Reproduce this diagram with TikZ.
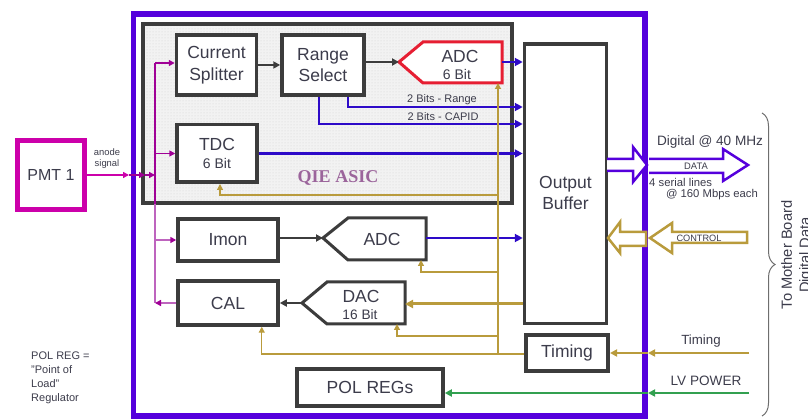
\documentclass[tikz,border=0pt]{standalone}
\usepackage{fontspec}
\setmainfont{Liberation Sans}
\newfontfamily\qiefont{Liberation Serif}
\usetikzlibrary{arrows.meta,decorations.pathreplacing,patterns}
\definecolor{frameP}{RGB}{85,0,220}
\definecolor{busB}{RGB}{45,10,200}
\definecolor{pmtM}{RGB}{204,0,170}
\definecolor{sigM}{RGB}{160,0,150}
\definecolor{sigL}{RGB}{190,100,190}
\definecolor{goldC}{RGB}{185,155,60}
\definecolor{greenC}{RGB}{50,160,80}
\definecolor{boxG}{RGB}{60,60,60}
\definecolor{txt}{RGB}{60,60,75}
\definecolor{qieC}{RGB}{155,100,155}
\definecolor{adcR}{RGB}{230,30,50}
\definecolor{braceG}{RGB}{110,110,110}
\begin{document}
\begin{tikzpicture}[x=1pt,y=-1pt,
  box/.style={draw=boxG, line width=3.5pt, fill=white, text=txt, align=center, inner sep=0pt,
    font=\fontsize{17.5}{21.5}\selectfont},
  lbl/.style={text=txt, inner sep=0pt, align=center},
  darr/.style={draw=boxG, line width=2pt, -{Triangle[length=7pt,width=7pt]}},
  barr/.style={draw=busB, line width=2.5pt, -{Triangle[length=8pt,width=8pt]}},
  garr/.style={draw=goldC, line width=1.2pt, -{Triangle[length=6pt,width=6pt]}},
  gline/.style={draw=goldC, line width=1.2pt},
  marr/.style={draw=sigM, line width=1.5pt, -{Triangle[length=6pt,width=6pt]}},
  lmarr/.style={draw=sigL, line width=1.5pt, -{Triangle[length=6pt,width=6pt,color=sigM]}},
  grarr/.style={draw=greenC, line width=2pt, -{Triangle[length=7pt,width=7pt]}},
  hollowP/.style={draw=frameP, line width=2.5pt, fill=white, line join=miter},
  hollowG/.style={draw=goldC, line width=2.5pt, fill=white, line join=miter}
]
\useasboundingbox (0,0) rectangle (808,419);

% outer frame
\draw[frameP, line width=5.5pt] (133.5,14) rectangle (645,416);

% QIE ASIC block
\fill[black!5] (142.5,24.5) rectangle (512,203);
\fill[pattern=dots, pattern color=black!18] (142.5,24.5) rectangle (512,203);
\draw[boxG, line width=4pt] (142.5,24.5) rectangle (512,203);
\node[text=qieC, font=\qiefont\bfseries\fontsize{18}{20}\selectfont, inner sep=0pt] (qie) at (338,178) {QIE ASIC};

% boxes
\node[box, minimum width=80pt, minimum height=60pt] (cs) at (216.5,65) {Current\\Splitter};
\node[box, minimum width=82pt, minimum height=60pt] (rs) at (323,65) {Range\\Select};
\node[box, minimum width=80pt, minimum height=57.5pt] (tdc) at (217,153.5) {TDC\\[-3pt]{\fontsize{14}{16}\selectfont 6 Bit}};
\node[box, minimum width=100pt, minimum height=42pt] (imon) at (228,240) {Imon};
\node[box, minimum width=100pt, minimum height=44pt] (cal) at (228,303) {CAL};
\node[box, minimum width=82pt, minimum height=279.5pt] (ob) at (565.5,183.75) {};
\node[lbl, font=\fontsize{17.5}{21}\selectfont] (obt) at (565.5,193) {Output\\Buffer};
\node[box, line width=4pt, minimum width=82pt, minimum height=36pt] (tim) at (567,353) {Timing};
\node[box, minimum width=146pt, minimum height=37pt] (pol) at (370,387.5) {POL REGs};
\node[draw=pmtM, line width=5pt, minimum width=67pt, minimum height=69pt, text=txt,
  font=\fontsize{16}{18}\selectfont] (pmt) at (51,175) {PMT 1};

% ADC 6 Bit (red)
\coordinate (adcT) at (399,62);
\coordinate (adcE) at (502,62);
\coordinate (adcB) at (498,83);
\draw[adcR, line width=3pt, line join=miter, fill=white] (adcT) -- (423,42) -- (502,42) -- (502,83) -- (423,83) -- cycle;
\node[lbl, font=\fontsize{17.5}{19}\selectfont] (adct) at (460,56) {ADC};
\node[lbl, font=\fontsize{14}{16}\selectfont] (adcb) at (457,74) {6 Bit};

% ADC lower
\coordinate (adc2T) at (323,238);
\coordinate (adc2E) at (426,238);
\draw[boxG, line width=3pt, line join=miter, fill=white] (adc2T) -- (348,218) -- (426,218) -- (426,260) -- (348,260) -- cycle;
\node[lbl, font=\fontsize{17.5}{19}\selectfont] (adc2t) at (382,239) {ADC};

% DAC
\coordinate (dacT) at (302,303);
\coordinate (dacE) at (405,304);
\draw[boxG, line width=3pt, line join=miter, fill=white] (dacT) -- (327,282) -- (405,282) -- (405,324) -- (327,324) -- cycle;
\node[lbl, font=\fontsize{17.5}{19}\selectfont] (dact) at (361,296) {DAC};
\node[lbl, font=\fontsize{13.7}{15}\selectfont] (dacb) at (360,315) {16 Bit};

% anode signal
\coordinate (anA) at (129,175);
\coordinate (anB) at (145,175);
\coordinate (anC) at (155,175);
\draw[draw=pmtM, line width=1.5pt, -{Triangle[length=6pt,width=6pt]}] (pmt.east) -- (anA);
\draw[marr] (anA) -- (anB);
\draw[marr] (anB) -- (anC);
\node[lbl, font=\fontsize{9.4}{11}\selectfont] (anl) at (107,159) {anode\\signal};
\coordinate (busTop) at (155,63);
\coordinate (busMid) at (155,204);
\coordinate (busBot) at (155,303);
\draw[sigM, line width=1.5pt] (busTop) -- (busMid);
\draw[sigL, line width=1.5pt] (busMid) -- (busBot);
\draw[marr] (busTop) -- (busTop -| cs.west);
\draw[marr] (tdc.west -| busTop) -- (tdc.west);
\draw[lmarr] (imon.west -| busTop) -- (imon.west);
\draw[lmarr] (cal.west) -- (cal.west -| busTop);

% dark internal arrows
\draw[darr] (cs.east) -- (rs.west);
\draw[darr] (rs.east |- adcT) -- (adcT);
\draw[darr] (imon.east |- adc2T) -- (adc2T);
\draw[darr] (dacT) -- (dacT -| cal.east);

% blue data lines
\draw[barr] (adcE) -- (adcE -| ob.west);
\coordinate (rg) at (348,107);
\coordinate (cp) at (319,124);
\draw[barr] (rs.south -| rg) -- (rg) -- (rg -| ob.west);
\draw[barr] (rs.south -| cp) -- (cp) -- (cp -| ob.west);
\node[lbl, font=\fontsize{11}{12}\selectfont] (rgl) at (442,100) {2 Bits - Range};
\node[lbl, font=\fontsize{11}{12}\selectfont] (cpl) at (443,117) {2 Bits - CAPID};
\draw[barr] (tdc.east) -- (tdc.east -| ob.west);
\draw[barr] (adc2E) -- (adc2E -| ob.west);

% gold control lines
\coordinate (gb) at (498,354);
\draw[garr] (tim.west |- gb) -| ([xshift=-18pt]cal.south east);
\draw[garr] (gb) -- (adcB);
\draw[garr] (498,195) -| ([xshift=3pt]tdc.south);
\draw[garr] (498,272) -| (421,260);
\draw[garr] (498,336) -| (397,324);
\draw[draw=goldC, line width=3pt, -{Triangle[length=8pt,width=8pt]}] (dacE -| ob.west) -- (dacE);

% external timing and power
\coordinate (tx) at (749,353);
\coordinate (tf) at (648,353);
\draw[draw=goldC, line width=2pt, -{Triangle[length=7pt,width=7pt]}] (tx) -- (tf);
\draw[draw=goldC, line width=2pt, -{Triangle[length=7pt,width=7pt]}] (tf) -- (tim.east |- tf);
\node[lbl, font=\fontsize{13.3}{15}\selectfont] (tml) at (701,341) {Timing};
\coordinate (px) at (749,393);
\coordinate (pf) at (648,393);
\draw[grarr] (px) -- (pf);
\draw[grarr] (pf) -- (pol.east |- pf);
\node[lbl, font=\fontsize{13.6}{15}\selectfont] (lvl) at (706,381) {LV POWER};

% DATA hollow arrows
\draw[hollowP] (607,159) -- (633,159) -- (633,147) -- (647,165) -- (633,182) -- (633,171) -- (607,171);
\draw[hollowP] (649,159) -- (723,159) -- (723,149) -- (748,165) -- (723,181) -- (723,173) -- (649,173);
\node[lbl, font=\fontsize{9.4}{11}\selectfont] (datal) at (696,166) {DATA};
\node[lbl, font=\fontsize{13.6}{15}\selectfont] (digl) at (710,142) {Digital @ 40 MHz};
\node[lbl, font=\fontsize{11.3}{13}\selectfont, anchor=west] (serl) at (649,182) {4 serial lines};
\node[lbl, font=\fontsize{11.3}{13}\selectfont] (mbl) at (712,195) {@ 160 Mbps each};

% CONTROL hollow arrows
\draw[hollowG] (747,232) -- (672,232) -- (672,223) -- (650,238) -- (672,253) -- (672,243) -- (747,243) -- cycle;
\draw[hollowG] (646,232) -- (620,232) -- (620,222) -- (608,238) -- (620,253) -- (620,246) -- (646,246) -- cycle;
\node[lbl, font=\fontsize{9.2}{11}\selectfont] (ctl) at (699,238) {CONTROL};

% brace and side text
\coordinate (brT) at (762,113);
\coordinate (brB) at (762,416);
\draw[braceG, line width=1pt, decorate, decoration={brace, amplitude=13pt}] (brT) -- (brB);
\node[lbl, rotate=90, font=\fontsize{14.7}{18}\selectfont] (mbd) at (797,255) {To Mother Board\\Digital Data};

% POL REG note
\node[lbl, align=left, anchor=west, font=\fontsize{11}{14}\selectfont] (note) at (31,378) {POL REG =\\"Point of\\Load"\\Regulator};
\end{tikzpicture}
\end{document}
